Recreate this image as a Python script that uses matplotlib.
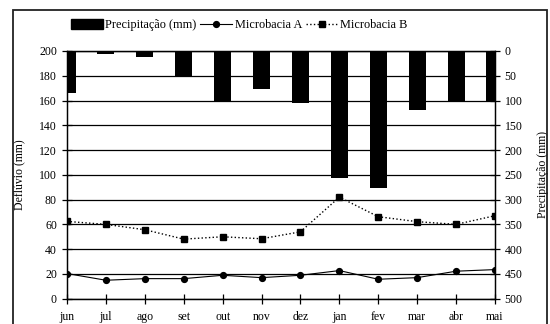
import numpy as np
import matplotlib
matplotlib.use('agg')
import matplotlib.pyplot as plt
from matplotlib.lines import Line2D
from matplotlib.patches import Patch, Rectangle

plt.rcParams['font.family'] = ['Liberation Serif', 'DejaVu Serif']
plt.rcParams['font.size'] = 8.5

# data
months = ['jun', 'jul', 'ago', 'set', 'out', 'nov', 'dez', 'jan', 'fev', 'mar', 'abr', 'mai']
precip = [85, 7, 12, 53, 100, 76, 105, 257, 276, 120, 100, 100]
micro_a = [20.3, 14.9, 16.2, 16.2, 18.9, 17.0, 18.9, 22.7, 15.7, 17.0, 22.2, 23.5]
micro_b = [62.4, 60.0, 55.7, 48.1, 50.0, 48.4, 54.0, 82.0, 66.2, 62.2, 60.0, 67.0]

x = np.arange(len(months))

fig = plt.figure(figsize=(5.5, 3.24), dpi=100)
ax = fig.add_axes([0.1218, 0.0781, 0.7782, 0.7645])
ax2 = ax.twinx()

# precipitation bars hang from the top (inverted right axis)
ax2.bar(x, precip, width=0.44, color='black', zorder=2)
ax2.set_ylim(500, 0)
ax2.set_yticks(np.arange(0, 501, 50))
ax2.set_ylabel('Precipitação (mm)')
ax2.yaxis.set_label_coords(1.099, 0.5)

ax.set_zorder(ax2.get_zorder() + 1)
ax.patch.set_visible(False)

ax.plot(x, micro_a, '-', color='black', lw=0.8, marker='o', ms=4.2)
ax.plot(x, micro_b, ':', color='black', lw=1.0, marker='s', ms=4.2)

ax.set_xlim(x[0], x[-1])
ax.set_ylim(0, 200)
ax.set_yticks(np.arange(0, 201, 20))
ax.set_xticks(x)
ax.set_xticklabels(months)
ax.set_ylabel('Deflúvio (mm)')
ax.yaxis.set_label_coords(-0.098, 0.5)
ax.grid(axis='y', color='black', lw=0.9)
ax.set_axisbelow(True)

for a in (ax, ax2):
    for s in a.spines.values():
        s.set_linewidth(0.9)
    a.tick_params(direction='inout', length=6.5, width=0.9, pad=4)
ax.tick_params(axis='x', pad=5.5)
ax2.tick_params(axis='y', pad=3.6)

handles = [
    Patch(facecolor='black', edgecolor='black'),
    Line2D([], [], color='black', lw=0.8, marker='o', ms=4.2),
    Line2D([], [], color='black', lw=1.0, ls=':', marker='s', ms=4.2),
]
fig.legend(handles, ['Precipitação (mm)', 'Microbacia A', 'Microbacia B'],
           loc='center', bbox_to_anchor=(0.435, 0.922), ncol=3, frameon=False,
           handlelength=2.6, handleheight=0.8, handletextpad=0.2, columnspacing=0.3,
           fontsize=8.8)

# outer frame of the figure
fig.patches.append(Rectangle((0.0236, -0.05), 0.971, 1.019, transform=fig.transFigure,
                             fill=False, edgecolor='#222222', lw=1.3))

fig.savefig('out.png', dpi=100)
